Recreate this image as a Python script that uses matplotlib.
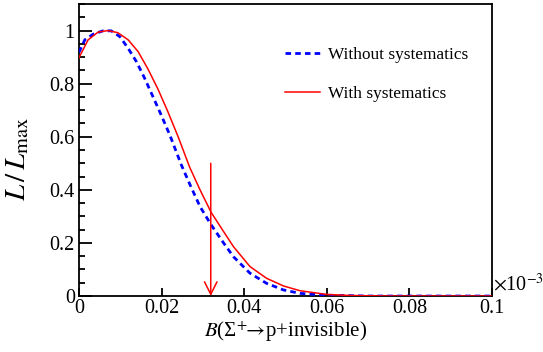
import matplotlib
matplotlib.use("Agg")
import matplotlib.pyplot as plt
from matplotlib.ticker import MultipleLocator, FuncFormatter

# likelihood scans (x in units of 1e-3)
x_nosys = [0.000, 0.0014, 0.0034, 0.0058, 0.0078, 0.0099, 0.0119, 0.0139, 0.0159,
           0.0179, 0.0199, 0.0220, 0.0248, 0.0270, 0.0293, 0.0320, 0.0350, 0.0374,
           0.0414, 0.0454, 0.0495, 0.0535, 0.060, 0.070, 0.100]
y_nosys = [0.918, 0.965, 0.986, 0.999, 0.999, 0.977, 0.933, 0.883, 0.820,
           0.751, 0.682, 0.606, 0.493, 0.415, 0.337, 0.268, 0.200, 0.148,
           0.086, 0.048, 0.023, 0.010, 0.003, 0.000, 0.000]

x_sys = [0.000, 0.0022, 0.0046, 0.0070, 0.0094, 0.0119, 0.0143, 0.0167, 0.0191,
         0.0215, 0.0240, 0.0268, 0.0293, 0.0320, 0.0350, 0.0374, 0.0414, 0.0454,
         0.0495, 0.0535, 0.060, 0.0656, 0.075, 0.100]
y_sys = [0.898, 0.965, 0.994, 1.000, 0.992, 0.965, 0.921, 0.855, 0.780,
         0.695, 0.600, 0.485, 0.400, 0.315, 0.243, 0.186, 0.111, 0.067,
         0.038, 0.020, 0.006, 0.002, 0.000, 0.000]

upper_limit = 0.0319
arrow_top = 0.5

plt.rcParams["font.family"] = ["Liberation Serif", "DejaVu Serif"]
plt.rcParams["mathtext.fontset"] = "stix"

fig = plt.figure(figsize=(5.43, 3.52), dpi=100)
ax = fig.add_axes([0.1455, 0.159, 0.7606, 0.8296])

ax.plot(x_nosys, y_nosys, color="#0000ff", linestyle=(0, (2.0, 1.5)), linewidth=2.0,
        label="Without systematics", zorder=3)
ax.plot(x_sys, y_sys, color="#ff0000", linewidth=1.1, label="With systematics", zorder=4)

ax.annotate("", xy=(upper_limit, 0), xytext=(upper_limit, arrow_top),
            arrowprops=dict(arrowstyle="->,head_length=0.9,head_width=0.45",
                            color="#ff0000", lw=1.1, shrinkA=0, shrinkB=0), zorder=5)

ax.set_xlim(0, 0.1)
ax.set_ylim(0, 1.1)

ax.xaxis.set_major_locator(MultipleLocator(0.02))
ax.xaxis.set_major_formatter(FuncFormatter(lambda v, p: "%g" % round(v, 4)))
ax.yaxis.set_major_locator(MultipleLocator(0.2))
ax.yaxis.set_minor_locator(MultipleLocator(0.05))
ax.yaxis.set_major_formatter(FuncFormatter(lambda v, p: "%g" % round(v, 4)))

ax.tick_params(axis="both", which="both", direction="in", labelsize=14.5,
               top=False, right=False, width=1.3)
ax.tick_params(axis="y", which="major", length=9, pad=3)
ax.tick_params(axis="y", which="minor", length=4.5)
ax.tick_params(axis="x", which="major", length=6, pad=2)
for s in ax.spines.values():
    s.set_linewidth(1.3)

ax.set_ylabel(r"$L\,/\,L_{\mathrm{max}}$", fontsize=21)
ax.yaxis.set_label_coords(-0.115, 0.47)
ax.set_xlabel(r"$B$(Σ$^{+}\!\!\rightarrow\!$p+invisible)", fontsize=15, labelpad=1)
ax.text(1.002, 0.0, r"$\times$10$^{-3}$", transform=ax.transAxes, fontsize=14.5,
        ha="left", va="bottom")

ax.legend(loc="upper left", bbox_to_anchor=(0.499, 0.854), frameon=False,
          fontsize=12.4, handlelength=2.0, handletextpad=0.5, labelspacing=1.37,
          borderpad=0, borderaxespad=0)

fig.savefig("out.png", dpi=100)
